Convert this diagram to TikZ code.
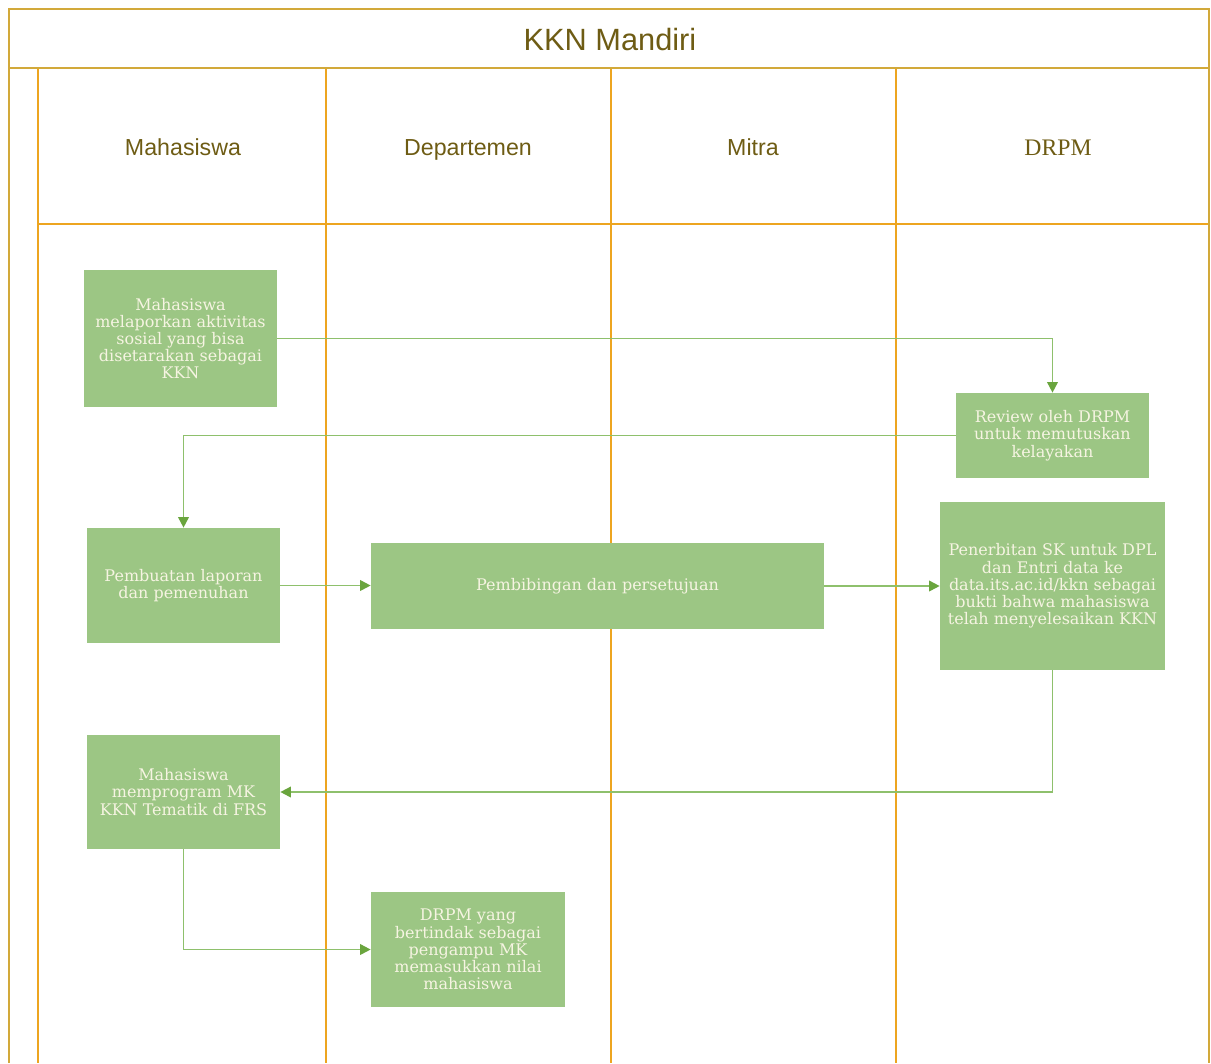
\documentclass[tikz,border=0pt]{standalone}
\usepackage{fontspec}
\setmainfont{DejaVu Serif}
\newfontfamily\lanefont{Liberation Sans}
\newfontfamily\lanefontserif{Liberation Serif}
\usetikzlibrary{arrows.meta}
\definecolor{frameGold}{HTML}{D2A93A}
\definecolor{laneOrange}{HTML}{EDA520}
\definecolor{boxGreen}{HTML}{9CC684}
\definecolor{boxText}{HTML}{F6F4E2}
\definecolor{flowLine}{HTML}{8EC06C}
\definecolor{flowTip}{HTML}{6AA53E}
\definecolor{headText}{HTML}{6E5C14}
\tikzset{
  frame/.style={draw=frameGold, line width=1.6pt},
  lane/.style={draw=laneOrange, line width=1.1pt},
  stepbox/.style={fill=boxGreen, draw=none, align=center, text=boxText,
    font=\fontsize{9.1}{9.8}\selectfont, inner sep=2pt},
  lanehead/.style={text=headText, anchor=base, font=\lanefont\fontsize{13.2}{15}\selectfont},
  flow/.style={draw=flowLine, line width=1pt, -{Triangle[length=6pt,width=6pt,color=flowTip]}},
}
\begin{document}
\begin{tikzpicture}[x=0.02cm, y=-0.02cm]
\useasboundingbox (0,0) rectangle (1211,1063);
% lane grid
\draw[lane] (38,68) -- (38,1063);
\draw[lane] (326,68) -- (326,1063);
\draw[lane] (611,68) -- (611,1063);
\draw[lane] (896,68) -- (896,1063);
\draw[lane] (38,224) -- (1209,224);
% outer frame and title row
\draw[frame] (9,1063) -- (9,9) -- (1209,9) -- (1209,1063);
\draw[frame] (9,68) -- (1209,68);
\node (title) at (610,50) [anchor=base, text=headText, font=\lanefont\fontsize{17.5}{20}\selectfont] {KKN Mandiri};
% lane headers
\node[lanehead] (hMhs) at (183,155) {Mahasiswa};
\node[lanehead] (hDep) at (468,155) {Departemen};
\node[lanehead] (hMit) at (753,155) {Mitra};
\node[lanehead, font=\lanefontserif\fontsize{13.5}{15}\selectfont] (hDrpm) at (1058,155) {DRPM};
% process steps
\node[stepbox, minimum width=3.86cm, minimum height=2.74cm] (lapor) at (180.5,338.5)
  {Mahasiswa\\melaporkan aktivitas\\sosial yang bisa\\disetarakan sebagai\\KKN};
\node[stepbox, minimum width=3.86cm, minimum height=1.70cm] (review) at (1052.5,435.5)
  {Review oleh DRPM\\untuk memutuskan\\kelayakan};
\node[stepbox, minimum width=3.86cm, minimum height=2.30cm] (laporan) at (183.5,585.5)
  {Pembuatan laporan\\dan pemenuhan};
\node[stepbox, minimum width=9.06cm, minimum height=1.72cm] (bimbing) at (597.5,586)
  {Pembibingan dan persetujuan};
\node[stepbox, minimum width=4.50cm, minimum height=3.36cm] (sk) at (1052.5,586)
  {Penerbitan SK untuk DPL\\dan Entri data ke\\data.its.ac.id/kkn sebagai\\bukti bahwa mahasiswa\\telah menyelesaikan KKN};
\node[stepbox, minimum width=3.86cm, minimum height=2.28cm] (frs) at (183.5,792)
  {Mahasiswa\\memprogram MK\\KKN Tematik di FRS};
\node[stepbox, minimum width=3.88cm, minimum height=2.30cm] (nilai) at (468,949.5)
  {DRPM yang\\bertindak sebagai\\pengampu MK\\memasukkan nilai\\mahasiswa};
% flow connectors
\draw[flow] (lapor.east) -| (review.north);
\draw[flow] (review.west) -| (laporan.north);
\draw[flow] (laporan.east) -- (bimbing.west |- laporan.east);
\draw[flow] (bimbing.east) -- (sk.west |- bimbing.east);
\draw[flow] (sk.south) |- (frs.east);
\draw[flow] (frs.south) |- (nilai.west);
\end{tikzpicture}
\end{document}
